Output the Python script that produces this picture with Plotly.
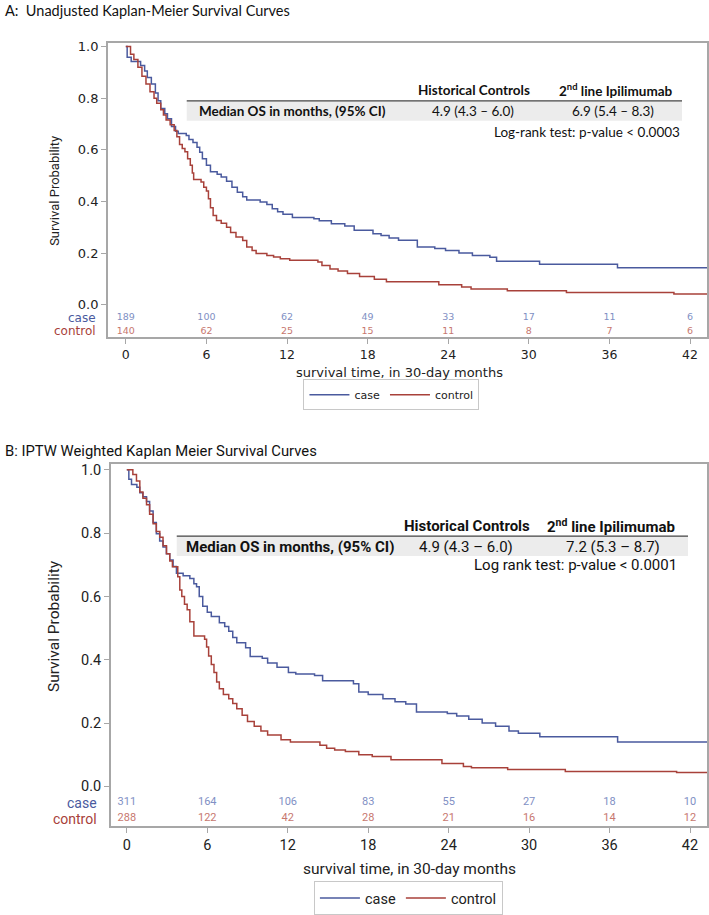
import plotly.graph_objects as go

W, H = 709, 915

# ---------------- data ----------------
months = [0, 6, 12, 18, 24, 30, 36, 42]

a_case_t = [0, 0.1, 0.4, 1.1, 1.4, 1.6, 1.9, 2.2, 2.4, 2.6, 2.9, 3.1, 3.4, 3.7, 3.9, 4.5, 4.7, 5.0, 5.3, 5.5, 5.7, 6.0,
            6.3, 6.8, 7.1, 7.5, 7.9, 8.3, 8.7, 9.0, 10.0, 10.5, 10.9, 11.3, 11.7, 12.4, 14.0, 14.4, 15.3, 16.3, 17.0,
            18.4, 19.0, 19.6, 20.3, 21.7, 23.0, 23.8, 24.8, 25.8, 27.1, 27.6, 30.8, 36.6, 43.3]
a_case_s = [1.0, 0.958, 0.942, 0.926, 0.905, 0.88, 0.855, 0.82, 0.79, 0.76, 0.74, 0.72, 0.69, 0.672, 0.663, 0.655, 0.64,
            0.628, 0.61, 0.59, 0.565, 0.54, 0.515, 0.505, 0.495, 0.478, 0.455, 0.435, 0.418, 0.405, 0.398, 0.388, 0.372,
            0.36, 0.35, 0.338, 0.333, 0.325, 0.313, 0.305, 0.288, 0.275, 0.268, 0.258, 0.25, 0.223, 0.218, 0.21, 0.2,
            0.19, 0.184, 0.168, 0.157, 0.143, 0.143]

a_ctrl_t = [0, 0.35, 0.6, 0.9, 1.2, 1.5, 1.8, 2.1, 2.3, 2.6, 2.8, 3.0, 3.3, 3.6, 3.8, 4.0, 4.2, 4.4, 4.6, 4.8, 4.95,
            5.05, 5.6, 5.8, 6.0, 6.15, 6.3, 6.5, 6.75, 7.1, 7.5, 7.8, 8.2, 8.7, 9.0, 9.4, 9.7, 10.5, 11.0, 11.5, 12.2,
            14.3, 14.6, 15.2, 15.8, 16.5, 17.4, 18.5, 19.4, 23.3, 25.0, 25.7, 28.4, 32.8, 40.8, 43.3]
a_ctrl_s = [1.0, 0.97, 0.95, 0.92, 0.885, 0.855, 0.825, 0.8, 0.78, 0.755, 0.735, 0.715, 0.697, 0.675, 0.65, 0.62, 0.605,
            0.592, 0.565, 0.54, 0.51, 0.485, 0.475, 0.455, 0.44, 0.41, 0.375, 0.345, 0.326, 0.315, 0.3, 0.28, 0.262,
            0.249, 0.223, 0.21, 0.198, 0.19, 0.185, 0.178, 0.172, 0.165, 0.152, 0.138, 0.13, 0.121, 0.109, 0.098,
            0.089, 0.077, 0.068, 0.061, 0.054, 0.047, 0.041, 0.041]

b_case_t = [0, 0.15, 0.35, 0.75, 0.97, 1.2, 1.47, 1.7, 1.96, 2.2, 2.45, 2.7, 2.95, 3.2, 3.45, 3.7, 4.2, 4.7, 5.0, 5.2,
            5.4, 5.66, 6.0, 6.3, 6.9, 7.3, 7.6, 7.9, 8.2, 8.86, 9.2, 10.1, 10.5, 11.2, 12.05, 12.6, 14.0, 14.6, 16.9,
            17.3, 18.0, 19.1, 20.0, 20.8, 21.6, 23.9, 24.6, 25.5, 26.5, 27.5, 28.5, 29.2, 30.8, 36.6, 43.3]
b_case_s = [1.0, 0.97, 0.954, 0.945, 0.928, 0.915, 0.9, 0.87, 0.834, 0.798, 0.775, 0.756, 0.735, 0.715, 0.695, 0.673,
            0.665, 0.657, 0.64, 0.631, 0.6, 0.569, 0.55, 0.537, 0.517, 0.505, 0.49, 0.47, 0.454, 0.438, 0.41, 0.405,
            0.39, 0.376, 0.36, 0.355, 0.35, 0.334, 0.324, 0.298, 0.29, 0.277, 0.267, 0.26, 0.235, 0.23, 0.222, 0.212,
            0.2, 0.19, 0.175, 0.168, 0.157, 0.14, 0.14]

b_ctrl_t = [0, 0.45, 0.72, 0.97, 1.2, 1.47, 1.7, 1.96, 2.2, 2.46, 2.7, 2.96, 3.2, 3.4, 3.8, 3.95, 4.1, 4.3, 4.5, 4.7,
            5.0, 5.8, 5.95, 6.1, 6.3, 6.5, 6.7, 6.9, 7.2, 7.6, 7.9, 8.2, 8.6, 9.0, 9.5, 10.0, 10.5, 11.5, 12.2, 14.4,
            14.9, 15.5, 16.3, 17.3, 18.3, 19.7, 23.5, 25.1, 25.7, 28.4, 32.7, 41.0, 43.3]
b_ctrl_s = [1.0, 0.985, 0.965, 0.93, 0.91, 0.89, 0.86, 0.83, 0.805, 0.787, 0.76, 0.735, 0.712, 0.694, 0.662, 0.62, 0.6,
            0.575, 0.558, 0.52, 0.475, 0.465, 0.44, 0.412, 0.385, 0.36, 0.33, 0.308, 0.29, 0.277, 0.262, 0.245, 0.225,
            0.205, 0.19, 0.175, 0.1625, 0.147, 0.14, 0.13, 0.12, 0.115, 0.11, 0.1, 0.094, 0.084, 0.072, 0.063, 0.059,
            0.053, 0.047, 0.044, 0.044]

a_risk_case = [189, 100, 62, 49, 33, 17, 11, 6]
a_risk_ctrl = [140, 62, 25, 15, 11, 8, 7, 6]
b_risk_case = [311, 164, 106, 83, 55, 27, 18, 10]
b_risk_ctrl = [288, 122, 42, 28, 21, 16, 14, 12]

groups = ["case", "control"]
y_ticks = [0.0, 0.2, 0.4, 0.6, 0.8, 1.0]
y_ticktext = ["0.0", "0.2", "0.4", "0.6", "0.8", "1.0"]

titles = ["A:  Unadjusted Kaplan-Meier Survival Curves", "B: IPTW Weighted Kaplan Meier Survival Curves"]
tbl_head = ["Historical Controls", "2<sup>nd</sup> line Ipilimumab"]
tbl_row = "Median OS in months, (95% CI)"
a_medians = ["4.9 (4.3 \u2013 6.0)", "6.9 (5.4 \u2013 8.3)"]
b_medians = ["4.9 (4.3 \u2013 6.0)", "7.2 (5.3 \u2013 8.7)"]
a_test = "Log-rank test: p-value < 0.0003"
b_test = "Log rank test: p-value < 0.0001"
x_title = "survival time, in 30-day months"
y_title = "Survival Probability"

# ---------------- style ----------------
C_CASE = "#4a5a9e"
C_CTRL = "#a8413a"
C_CASE_L = "#8190c4"
C_CTRL_L = "#c7786f"
FRAME = "#a7a7a7"
FA = "DejaVu Sans"
FB = "Roboto, sans-serif"
FT = "Lato, Open Sans, sans-serif"


def fx(px):
    return px / W


def fy(py):
    return 1 - py / H


fig = go.Figure()

# panel geometry (pixels)
A = dict(l=108, r=708, t=40, b=338, x0=126, x42=691, y1=44, y0=305)
B = dict(l=111, r=708, t=466, b=832, x0=127, x42=691, y1=472, y0=792)


def ranges(P):
    ppm = (P["x42"] - P["x0"]) / 42.0
    xr = [(P["l"] - P["x0"]) / ppm, (P["r"] - P["x0"]) / ppm]
    ppu = (P["y0"] - P["y1"])
    yr = [(P["y0"] - P["b"]) / ppu, (P["y0"] - P["t"]) / ppu]
    return xr, yr, ppu


xrA, yrA, ppuA = ranges(A)
xrB, yrB, ppuB = ranges(B)

# curves
for (t, s, name, col, xa, ya, lg) in [
    (a_case_t, a_case_s, "case", C_CASE, "x", "y", "legend"),
    (a_ctrl_t, a_ctrl_s, "control", C_CTRL, "x", "y", "legend"),
    (b_case_t, b_case_s, "case", C_CASE, "x2", "y2", "legend2"),
    (b_ctrl_t, b_ctrl_s, "control", C_CTRL, "x2", "y2", "legend2"),
]:
    fig.add_trace(go.Scatter(x=t, y=s, mode="lines", line=dict(color=col, width=1.5, shape="hv"),
                             name=name, xaxis=xa, yaxis=ya, legend=lg, showlegend=True, hoverinfo="skip"))

# at-risk numbers
yA_case = (A["y0"] - 318) / ppuA
yA_ctrl = (A["y0"] - 332) / ppuA
yB_case = (B["y0"] - 808) / ppuB
yB_ctrl = (B["y0"] - 824) / ppuB
for (vals, yv, col, xa, ya, fsz, fam) in [
    (a_risk_case, yA_case, C_CASE_L, "x", "y", 9.5, FA),
    (a_risk_ctrl, yA_ctrl, C_CTRL_L, "x", "y", 9.5, FA),
    (b_risk_case, yB_case, C_CASE_L, "x2", "y2", 11, FB),
    (b_risk_ctrl, yB_ctrl, C_CTRL_L, "x2", "y2", 11, FB),
]:
    fig.add_trace(go.Scatter(x=months, y=[yv] * len(vals), text=[str(v) for v in vals], mode="text",
                             textfont=dict(color=col, size=fsz, family=fam), textposition="middle center",
                             xaxis=xa, yaxis=ya, showlegend=False, hoverinfo="skip"))


def axis_common(fam, size):
    return dict(showgrid=False, zeroline=False, showline=True, mirror=True, linecolor=FRAME, linewidth=1.5,
                ticks="outside", ticklen=5, tickcolor=FRAME, tickwidth=1,
                tickfont=dict(family=fam, size=size, color="#222"), fixedrange=True)


layout = dict(
    width=W, height=H, margin=dict(l=0, r=0, t=0, b=0), paper_bgcolor="white", plot_bgcolor="white",
    xaxis=dict(domain=[fx(A["l"]), fx(A["r"])], range=xrA, tickvals=months, anchor="y", **axis_common(FA, 12.5)),
    yaxis=dict(domain=[fy(A["b"]), fy(A["t"])], range=yrA, tickvals=y_ticks, ticktext=y_ticktext, anchor="x",
               **axis_common(FA, 13)),
    xaxis2=dict(domain=[fx(B["l"]), fx(B["r"])], range=xrB, tickvals=months, anchor="y2", **axis_common(FB, 14.5)),
    yaxis2=dict(domain=[fy(B["b"]), fy(B["t"])], range=yrB, tickvals=y_ticks, ticktext=y_ticktext, anchor="x2",
                **axis_common(FB, 14.5)),
    legend=dict(orientation="h", x=fx(392), y=fy(396), xanchor="center", yanchor="middle",
                bordercolor="#c8c8c8", borderwidth=1, font=dict(family=FA, size=11, color="#222"),
                itemwidth=40, tracegroupgap=0),
    legend2=dict(orientation="h", x=fx(409), y=fy(905), xanchor="center", yanchor="middle",
                 bordercolor="#c8c8c8", borderwidth=1, font=dict(family=FB, size=14.5, color="#222"),
                 itemwidth=40, tracegroupgap=0),
    showlegend=True,
)
fig.update_layout(**layout)

ann = []
shapes = []


def text(px, py, s, size, fam, color="#111", xanchor="left", bold=False, textangle=0):
    ann.append(dict(x=fx(px), y=fy(py), xref="paper", yref="paper", text=("<b>%s</b>" % s) if bold else s,
                    showarrow=False, xanchor=xanchor, yanchor="middle",
                    font=dict(size=size, family=fam, color=color), textangle=textangle))


# titles
text(3, 8, titles[0], 14.5, FT)
text(3, 453, titles[1], 14.8, FB)

# axis titles
text(55, 190, y_title, 13, FB, color="#222", xanchor="center", textangle=-90)
text(54, 630, y_title, 15.5, FB, color="#222", xanchor="center", textangle=-90)
text(400, 374, x_title, 13, FA, color="#222", xanchor="center")
text(410, 876, x_title, 15.5, FB, color="#222", xanchor="center")

# row labels for at-risk table
text(98, 318, groups[0], 12, FA, color=C_CASE, xanchor="right")
text(98, 332, groups[1], 12, FA, color=C_CTRL, xanchor="right")
text(99, 809, groups[0], 14, FB, color=C_CASE, xanchor="right")
text(99, 825, groups[1], 14, FB, color=C_CTRL, xanchor="right")

# inset table A
shapes.append(dict(type="rect", xref="paper", yref="paper", x0=fx(187), x1=fx(683), y0=fy(119), y1=fy(99),
                   fillcolor="#ececec", line=dict(width=0), layer="below"))
shapes.append(dict(type="line", xref="paper", yref="paper", x0=fx(187), x1=fx(683), y0=fy(99), y1=fy(99),
                   line=dict(color="#444", width=1.2)))
text(475, 88, tbl_head[0], 13.5, FT, bold=True, xanchor="center")
text(617, 88, tbl_head[1], 13.5, FT, bold=True, xanchor="center")
text(197, 109, tbl_row, 13.5, FT, bold=True)
text(474, 109, a_medians[0], 13.5, FT, xanchor="center")
text(614, 109, a_medians[1], 13.5, FT, xanchor="center")
text(683, 130, a_test, 13.5, FT, xanchor="right")

# inset table B
shapes.append(dict(type="rect", xref="paper", yref="paper", x0=fx(177), x1=fx(689), y0=fy(559), y1=fy(539),
                   fillcolor="#ececec", line=dict(width=0), layer="below"))
shapes.append(dict(type="line", xref="paper", yref="paper", x0=fx(177), x1=fx(689), y0=fy(539), y1=fy(539),
                   line=dict(color="#444", width=1.2)))
text(468, 529, tbl_head[0], 15, FB, bold=True, xanchor="center")
text(612, 529, tbl_head[1], 15, FB, bold=True, xanchor="center")
text(184, 550, tbl_row, 15, FB, bold=True)
text(467, 550, b_medians[0], 15, FB, xanchor="center")
text(614, 550, b_medians[1], 15, FB, xanchor="center")
text(680, 568, b_test, 15, FB, xanchor="right")

fig.update_layout(annotations=ann, shapes=shapes)
fig.write_html("out.html", config={"displayModeBar": False},
               post_script="document.body.style.margin='0';document.body.style.padding='0';")
